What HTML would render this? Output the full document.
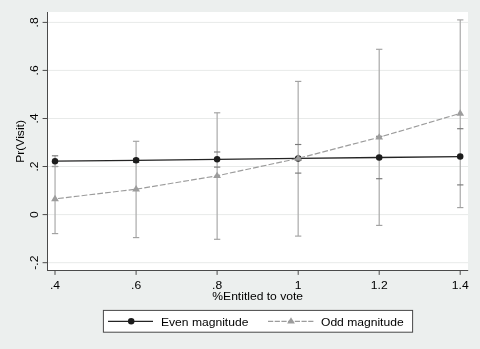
<!DOCTYPE html>
<html><head><meta charset="utf-8"><title>chart</title>
<style>
html,body{margin:0;padding:0;background:#ecefee;}
svg{display:block}
text{font-family:"Liberation Sans",Arial,sans-serif;fill:#000}
</style></head><body>
<svg width="480" height="349" viewBox="0 0 480 349">
<rect x="0" y="0" width="480" height="349" fill="#ecefee"/>
<rect x="47.5" y="12" width="420.5" height="258.5" fill="#fff"/>

<line x1="48" x2="468" y1="262.7" y2="262.7" stroke="#e8eae9" stroke-width="1"/>
<line x1="48" x2="468" y1="214.6" y2="214.6" stroke="#e8eae9" stroke-width="1"/>
<line x1="48" x2="468" y1="166.5" y2="166.5" stroke="#e8eae9" stroke-width="1"/>
<line x1="48" x2="468" y1="118.5" y2="118.5" stroke="#e8eae9" stroke-width="1"/>
<line x1="48" x2="468" y1="70.4" y2="70.4" stroke="#e8eae9" stroke-width="1"/>
<line x1="48" x2="468" y1="22.4" y2="22.4" stroke="#e8eae9" stroke-width="1"/>
<g stroke="#9c9c9c" fill="none">
<line x1="55.05" x2="55.05" y1="155.8" y2="233.6" stroke="#adadad" stroke-width="1.25"/>
<line x1="51.90" x2="58.20" y1="155.8" y2="155.8" stroke="#7a7a7a" stroke-width="1.15"/>
<line x1="51.90" x2="58.20" y1="166.5" y2="166.5" stroke="#7a7a7a" stroke-width="1.15"/>
<line x1="51.90" x2="58.20" y1="166.5" y2="166.5" stroke="#a2a2a2" stroke-width="1.15"/>
<line x1="51.90" x2="58.20" y1="233.6" y2="233.6" stroke="#a2a2a2" stroke-width="1.15"/>
<line x1="136.09" x2="136.09" y1="141.3" y2="237.6" stroke="#adadad" stroke-width="1.25"/>
<line x1="132.94" x2="139.24" y1="158.8" y2="158.8" stroke="#7a7a7a" stroke-width="1.15"/>
<line x1="132.94" x2="139.24" y1="162.4" y2="162.4" stroke="#7a7a7a" stroke-width="1.15"/>
<line x1="132.94" x2="139.24" y1="141.3" y2="141.3" stroke="#a2a2a2" stroke-width="1.15"/>
<line x1="132.94" x2="139.24" y1="237.6" y2="237.6" stroke="#a2a2a2" stroke-width="1.15"/>
<line x1="217.13" x2="217.13" y1="112.8" y2="239.3" stroke="#adadad" stroke-width="1.25"/>
<line x1="213.98" x2="220.28" y1="152.0" y2="152.0" stroke="#7a7a7a" stroke-width="1.15"/>
<line x1="213.98" x2="220.28" y1="167.1" y2="167.1" stroke="#7a7a7a" stroke-width="1.15"/>
<line x1="213.98" x2="220.28" y1="112.8" y2="112.8" stroke="#a2a2a2" stroke-width="1.15"/>
<line x1="213.98" x2="220.28" y1="239.3" y2="239.3" stroke="#a2a2a2" stroke-width="1.15"/>
<line x1="298.17" x2="298.17" y1="81.4" y2="236.1" stroke="#adadad" stroke-width="1.25"/>
<line x1="295.02" x2="301.32" y1="144.5" y2="144.5" stroke="#7a7a7a" stroke-width="1.15"/>
<line x1="295.02" x2="301.32" y1="173.1" y2="173.1" stroke="#7a7a7a" stroke-width="1.15"/>
<line x1="295.02" x2="301.32" y1="81.4" y2="81.4" stroke="#a2a2a2" stroke-width="1.15"/>
<line x1="295.02" x2="301.32" y1="236.1" y2="236.1" stroke="#a2a2a2" stroke-width="1.15"/>
<line x1="379.21" x2="379.21" y1="49.3" y2="225.4" stroke="#adadad" stroke-width="1.25"/>
<line x1="376.06" x2="382.36" y1="136.3" y2="136.3" stroke="#7a7a7a" stroke-width="1.15"/>
<line x1="376.06" x2="382.36" y1="178.7" y2="178.7" stroke="#7a7a7a" stroke-width="1.15"/>
<line x1="376.06" x2="382.36" y1="49.3" y2="49.3" stroke="#a2a2a2" stroke-width="1.15"/>
<line x1="376.06" x2="382.36" y1="225.4" y2="225.4" stroke="#a2a2a2" stroke-width="1.15"/>
<line x1="460.25" x2="460.25" y1="19.9" y2="207.6" stroke="#adadad" stroke-width="1.25"/>
<line x1="457.10" x2="463.40" y1="128.7" y2="128.7" stroke="#7a7a7a" stroke-width="1.15"/>
<line x1="457.10" x2="463.40" y1="184.9" y2="184.9" stroke="#7a7a7a" stroke-width="1.15"/>
<line x1="457.10" x2="463.40" y1="19.9" y2="19.9" stroke="#a2a2a2" stroke-width="1.15"/>
<line x1="457.10" x2="463.40" y1="207.6" y2="207.6" stroke="#a2a2a2" stroke-width="1.15"/>
</g>
<polyline points="55.0,161.2 136.1,160.3 217.1,159.3 298.2,158.4 379.2,157.5 460.2,156.6" fill="none" stroke="#242424" stroke-width="1.35"/>
<circle cx="55.0" cy="161.2" r="3.25" fill="#1c1c1c"/>
<circle cx="136.1" cy="160.3" r="3.25" fill="#1c1c1c"/>
<circle cx="217.1" cy="159.3" r="3.25" fill="#1c1c1c"/>
<circle cx="298.2" cy="158.4" r="3.25" fill="#1c1c1c"/>
<circle cx="379.2" cy="157.5" r="3.25" fill="#1c1c1c"/>
<circle cx="460.2" cy="156.6" r="3.25" fill="#1c1c1c"/>
<polyline points="55.0,198.9 136.1,189.2 217.1,175.8 298.2,158.4 379.2,137.3 460.2,113.4" fill="none" stroke="#9c9c9c" stroke-width="1.15" stroke-dasharray="5.8 2.1" stroke-dashoffset="4.85"/>
<polygon points="55.0,194.8 58.9,201.2 51.1,201.2" fill="#9c9c9c"/>
<polygon points="136.1,185.1 140.0,191.5 132.2,191.5" fill="#9c9c9c"/>
<polygon points="217.1,171.7 221.0,178.1 213.2,178.1" fill="#9c9c9c"/>
<polygon points="298.2,154.3 302.1,160.7 294.3,160.7" fill="#9c9c9c"/>
<polygon points="379.2,133.2 383.1,139.6 375.3,139.6" fill="#9c9c9c"/>
<polygon points="460.2,109.3 464.1,115.7 456.4,115.7" fill="#9c9c9c"/>
<g stroke="#4a4a4a" stroke-width="1" fill="none">
<line x1="47.5" x2="47.5" y1="12" y2="271"/>
<line x1="47" x2="468.2" y1="270.5" y2="270.5"/>
<line x1="42.6" x2="47.5" y1="262.7" y2="262.7"/>
<line x1="42.6" x2="47.5" y1="214.6" y2="214.6"/>
<line x1="42.6" x2="47.5" y1="166.5" y2="166.5"/>
<line x1="42.6" x2="47.5" y1="118.5" y2="118.5"/>
<line x1="42.6" x2="47.5" y1="70.4" y2="70.4"/>
<line x1="42.6" x2="47.5" y1="22.4" y2="22.4"/>
<line x1="55.0" x2="55.0" y1="270.5" y2="274.9"/>
<line x1="136.1" x2="136.1" y1="270.5" y2="274.9"/>
<line x1="217.1" x2="217.1" y1="270.5" y2="274.9"/>
<line x1="298.2" x2="298.2" y1="270.5" y2="274.9"/>
<line x1="379.2" x2="379.2" y1="270.5" y2="274.9"/>
<line x1="460.2" x2="460.2" y1="270.5" y2="274.9"/>
</g>
<text transform="translate(55.0,288.8) scale(1.0254,1)" font-size="11.8" text-anchor="middle">.4</text>
<text transform="translate(136.1,288.8) scale(1.0254,1)" font-size="11.8" text-anchor="middle">.6</text>
<text transform="translate(217.1,288.8) scale(1.0254,1)" font-size="11.8" text-anchor="middle">.8</text>
<text transform="translate(298.2,288.8) scale(1.0254,1)" font-size="11.8" text-anchor="middle">1</text>
<text transform="translate(379.2,288.8) scale(1.0254,1)" font-size="11.8" text-anchor="middle">1.2</text>
<text transform="translate(460.2,288.8) scale(1.0254,1)" font-size="11.8" text-anchor="middle">1.4</text>
<text transform="translate(37.7,262.7) rotate(-90) scale(1.0254,1)" font-size="11.8" text-anchor="middle">-.2</text>
<text transform="translate(37.7,214.6) rotate(-90) scale(1.0254,1)" font-size="11.8" text-anchor="middle">0</text>
<text transform="translate(37.7,166.5) rotate(-90) scale(1.0254,1)" font-size="11.8" text-anchor="middle">.2</text>
<text transform="translate(37.7,118.5) rotate(-90) scale(1.0254,1)" font-size="11.8" text-anchor="middle">.4</text>
<text transform="translate(37.7,70.4) rotate(-90) scale(1.0254,1)" font-size="11.8" text-anchor="middle">.6</text>
<text transform="translate(37.7,22.4) rotate(-90) scale(1.0254,1)" font-size="11.8" text-anchor="middle">.8</text>
<text transform="translate(257.7,300.1) scale(1.0254,1)" font-size="11.8" text-anchor="middle">%Entitled to vote</text>
<text transform="translate(23.9,141.4) rotate(-90) scale(1.0254,1)" font-size="11.8" text-anchor="middle">Pr(Visit)</text>
<rect x="103.4" y="310.4" width="309.2" height="21.8" fill="#fff" stroke="#484848" stroke-width="1"/>
<line x1="108" x2="153" y1="321.3" y2="321.3" stroke="#242424" stroke-width="1.35"/>
<circle cx="131.2" cy="321.3" r="3.25" fill="#1c1c1c"/>
<text transform="translate(161.0,325.5) scale(1.0254,1)" font-size="11.8" text-anchor="start">Even magnitude</text>
<line x1="268" x2="313.7" y1="321.3" y2="321.3" stroke="#9c9c9c" stroke-width="1.15" stroke-dasharray="5.2 1.5"/>
<polygon points="291.0,317.2 294.9,323.6 287.1,323.6" fill="#9c9c9c"/>
<text transform="translate(321.0,325.5) scale(1.0254,1)" font-size="11.8" text-anchor="start">Odd magnitude</text>
</svg></body></html>
